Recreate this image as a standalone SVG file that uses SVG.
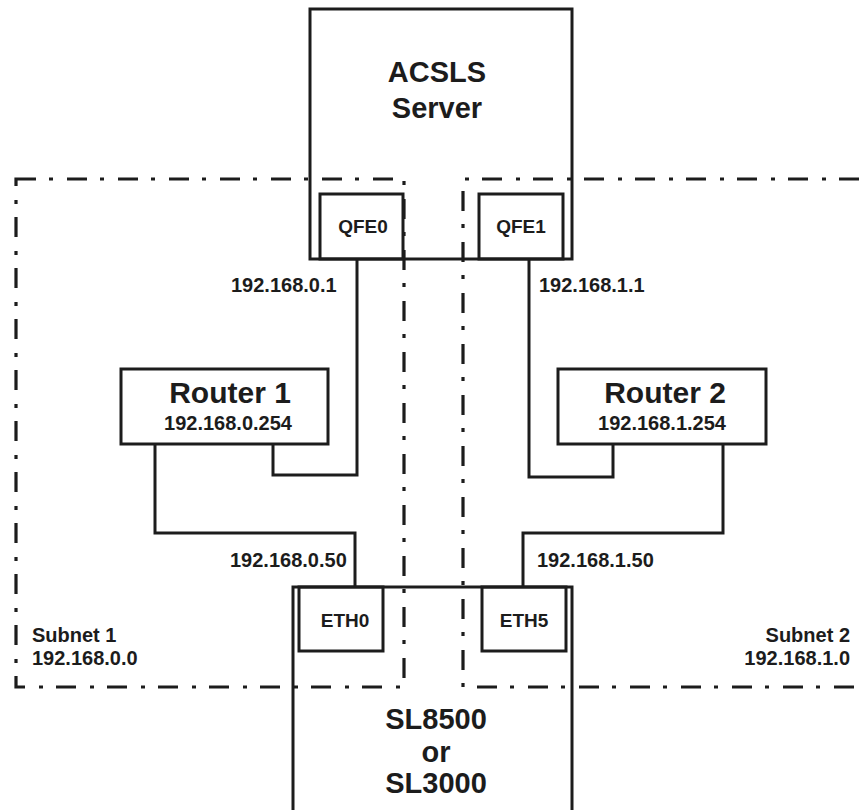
<svg xmlns="http://www.w3.org/2000/svg" width="859" height="810" viewBox="0 0 859 810">
<style>
.box{fill:none;stroke:#1c1c1c;stroke-width:3}
.wire{fill:none;stroke:#1c1c1c;stroke-width:3}
.sub{fill:none;stroke:#1c1c1c;stroke-width:3.2;stroke-dasharray:20 13 4 14}
text{font-family:"Liberation Sans",Arial,sans-serif;font-weight:bold;fill:#1c1c1c}
.big{font-size:29px}
.mid{font-size:30px}
.sm{font-size:20px}
.port{font-size:19px}
</style>
<rect width="859" height="810" fill="#fff"/>
<g id="subnet1">
<rect class="sub" x="16" y="179" width="388" height="508"/>
<text class="sm" x="32" y="642">Subnet 1</text>
<text class="sm" x="32" y="665">192.168.0.0</text>
</g>
<g id="subnet2">
<path class="sub" d="M859 179 H463 V687 H859"/>
<text class="sm" x="850" y="642" text-anchor="end">Subnet 2</text>
<text class="sm" x="850" y="665" text-anchor="end">192.168.1.0</text>
</g>
<g id="server">
<rect class="box" x="310" y="9" width="262" height="250"/>
<text class="big" x="437" y="82" text-anchor="middle">ACSLS</text>
<text class="big" x="437" y="118" text-anchor="middle">Server</text>
</g>
<g id="qfe0">
<rect class="box" x="320" y="194" width="83" height="65"/>
<text class="port" x="363" y="233" text-anchor="middle">QFE0</text>
</g>
<g id="qfe1">
<rect class="box" x="479" y="194" width="84" height="65"/>
<text class="port" x="521" y="233" text-anchor="middle">QFE1</text>
</g>
<g id="router1">
<rect class="box" x="121" y="369" width="207" height="75"/>
<text class="mid" x="230" y="403" text-anchor="middle">Router 1</text>
<text class="sm" x="228" y="430" text-anchor="middle">192.168.0.254</text>
</g>
<g id="router2">
<rect class="box" x="558" y="369" width="208" height="75"/>
<text class="mid" x="665" y="403" text-anchor="middle">Router 2</text>
<text class="sm" x="662" y="430" text-anchor="middle">192.168.1.254</text>
</g>
<g id="library">
<path class="box" d="M293 812 V587 H572 V812"/>
<text class="big" x="436" y="729" text-anchor="middle">SL8500</text>
<text class="big" x="436" y="762" text-anchor="middle">or</text>
<text class="big" x="436" y="793" text-anchor="middle">SL3000</text>
</g>
<g id="eth0">
<rect class="box" x="299" y="587" width="84" height="64"/>
<text class="port" x="345" y="627" text-anchor="middle">ETH0</text>
</g>
<g id="eth5">
<rect class="box" x="482" y="587" width="84" height="64"/>
<text class="port" x="524" y="627" text-anchor="middle">ETH5</text>
</g>
<g id="connectors">
<path class="wire" d="M357 259 V475 H273 V444"/>
<path class="wire" d="M155 444 V533 H355 V587"/>
<path class="wire" d="M529 259 V477 H613 V444"/>
<path class="wire" d="M723 444 V533 H523 V587"/>
<text class="sm" x="231" y="292">192.168.0.1</text>
<text class="sm" x="539" y="292">192.168.1.1</text>
<text class="sm" x="230" y="567">192.168.0.50</text>
<text class="sm" x="537" y="567">192.168.1.50</text>
</g>
</svg>
